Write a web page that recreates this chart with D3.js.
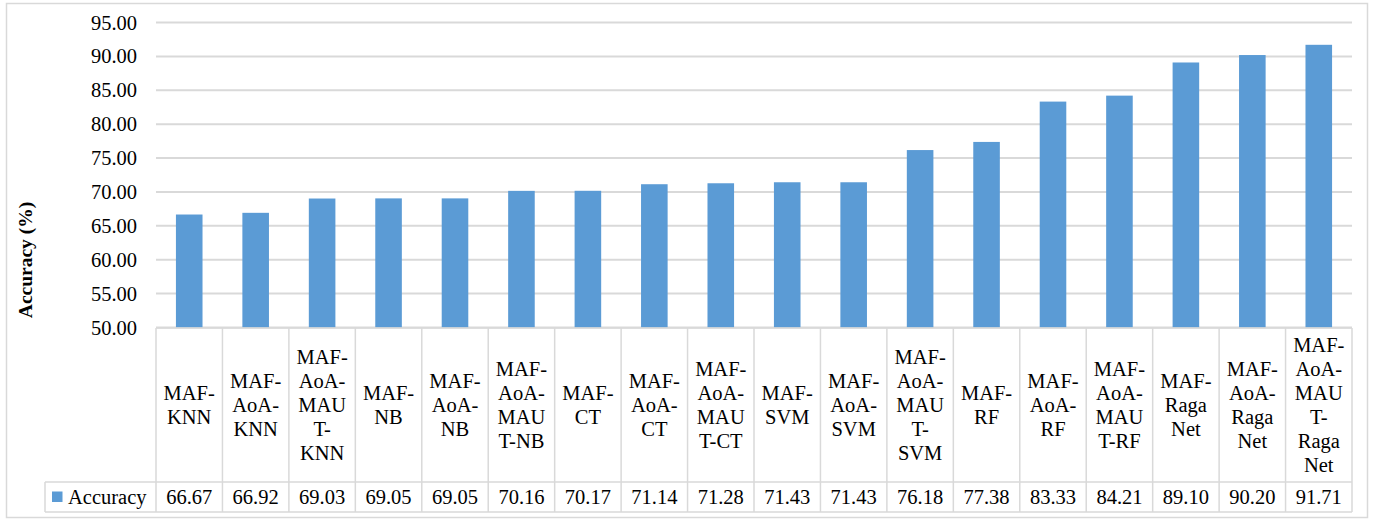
<!DOCTYPE html>
<html>
<head>
<meta charset="utf-8">
<script src="https://cdn.jsdelivr.net/npm/d3@7/dist/d3.min.js"></script>
<style>
  html, body { margin: 0; padding: 0; background: #fff; }
  svg { display: block; }
  svg text { font-family: "Liberation Serif", "Times New Roman", serif !important; }
</style>
</head>
<body>
<svg id="chart" width="1373" height="520"></svg>
<script>
// Classifier variants and their accuracy (%)
const categories = [
  "MAF-KNN", "MAF-AoA-KNN", "MAF-AoA-MAUT-KNN",
  "MAF-NB", "MAF-AoA-NB", "MAF-AoA-MAUT-NB",
  "MAF-CT", "MAF-AoA-CT", "MAF-AoA-MAUT-CT",
  "MAF-SVM", "MAF-AoA-SVM", "MAF-AoA-MAUT-SVM",
  "MAF-RF", "MAF-AoA-RF", "MAF-AoA-MAUT-RF",
  "MAF-Raga Net", "MAF-AoA-Raga Net", "MAF-AoA-MAUT-Raga Net"
];
const accuracy = [
  66.67, 66.92, 69.03, 69.05, 69.05, 70.16, 70.17, 71.14, 71.28,
  71.43, 71.43, 76.18, 77.38, 83.33, 84.21, 89.10, 90.20, 91.71
];
const seriesName = "Accuracy";
const yTicks = [50, 55, 60, 65, 70, 75, 80, 85, 90, 95];
const yTitle = "Accuracy (%)";

const svg = d3.select("#chart");
const FONT = 20.5;
const GRID = "#d9d9d9";
const BAR = "#5b9bd5";

// Layout
const plot = { left: 156, right: 1352, top: 22.5, bottom: 327.5 };
const table = { labelBottom: 482, valueBottom: 512, legendLeft: 45 };

const x = d3.scaleBand().domain(categories).range([plot.left, plot.right]).padding(0);
const y = d3.scaleLinear().domain([50, 95]).range([plot.bottom, plot.top]);
const bw = x.bandwidth();
const barW = bw / 2.5; // gap width 150%

// Chart frame
svg.append("rect")
  .attr("x", 6.5).attr("y", 3.5).attr("width", 1361).attr("height", 514)
  .attr("fill", "#fff").attr("stroke", GRID).attr("stroke-width", 1.5);

// Horizontal gridlines
svg.append("g")
  .selectAll("line")
  .data(yTicks)
  .join("line")
  .attr("x1", plot.left).attr("x2", plot.right)
  .attr("y1", d => y(d)).attr("y2", d => y(d))
  .attr("stroke", GRID).attr("stroke-width", 2);

// Y axis tick labels
const yAxis = d3.axisLeft(y).tickValues(yTicks).tickFormat(d3.format(".2f"))
  .tickSize(0).tickPadding(19);
const gy = svg.append("g").attr("transform", `translate(${plot.left},0)`).call(yAxis);
gy.select(".domain").remove();
gy.attr("font-size", FONT);
gy.selectAll("text").attr("fill", "#000");

// Y axis title
svg.append("text")
  .attr("transform", "translate(32,260) rotate(-90)")
  .attr("text-anchor", "middle")
  .attr("font-size", 19.5).attr("font-weight", "bold").attr("fill", "#000")
  .text(yTitle);

// Bars
svg.append("g")
  .selectAll("rect")
  .data(categories)
  .join("rect")
  .attr("x", (d) => x(d) + (bw - barW) / 2)
  .attr("width", barW)
  .attr("y", (d, i) => y(accuracy[i]))
  .attr("height", (d, i) => y(50) - y(accuracy[i]))
  .attr("fill", BAR);

// Data table: grid lines
const tg = svg.append("g").attr("stroke", GRID).attr("stroke-width", 1.5).attr("fill", "none");
// horizontal rules
tg.append("line").attr("x1", plot.left).attr("x2", plot.right).attr("y1", plot.bottom + 0.5).attr("y2", plot.bottom + 0.5);
tg.append("line").attr("x1", table.legendLeft).attr("x2", plot.right).attr("y1", table.labelBottom).attr("y2", table.labelBottom);
tg.append("line").attr("x1", table.legendLeft).attr("x2", plot.right).attr("y1", table.valueBottom).attr("y2", table.valueBottom);
// vertical rules
const edges = categories.map(c => x(c)).concat([plot.right]);
tg.selectAll("line.v")
  .data(edges)
  .join("line")
  .attr("class", "v")
  .attr("x1", d => d).attr("x2", d => d)
  .attr("y1", plot.bottom + 0.5).attr("y2", table.valueBottom);
tg.append("line").attr("x1", table.legendLeft).attr("x2", table.legendLeft)
  .attr("y1", table.labelBottom).attr("y2", table.valueBottom);

// Category labels, wrapped to the cell width
const measure = svg.append("text").attr("font-size", FONT).attr("visibility", "hidden");
function textWidth(s) { measure.text(s); return measure.node().getComputedTextLength(); }
function wrap(label, maxW) {
  const tokens = label.match(/[^\s-]+-?|\s+/g).filter(t => t.trim().length);
  // remember whether each token followed a space
  const parts = [];
  let rest = label;
  for (const t of tokens) {
    const idx = rest.indexOf(t);
    parts.push({ t, space: idx > 0 });
    rest = rest.slice(idx + t.length);
  }
  const lines = [];
  let cur = "";
  const pushPiece = (piece, space) => {
    const cand = cur ? cur + (space ? " " : "") + piece : piece;
    if (textWidth(cand) <= maxW) { cur = cand; return; }
    if (cur) { lines.push(cur); cur = ""; }
    if (textWidth(piece) <= maxW) { cur = piece; return; }
    // break an over-long token by characters
    let chunk = "";
    for (const ch of piece) {
      if (textWidth(chunk + ch) <= maxW) chunk += ch;
      else { lines.push(chunk); chunk = ch; }
    }
    cur = chunk;
  };
  parts.forEach(p => pushPiece(p.t, p.space));
  if (cur) lines.push(cur);
  return lines;
}
const lineH = 24;
const labelMid = (plot.bottom + table.labelBottom) / 2;
const labels = svg.append("g").attr("font-size", FONT).attr("fill", "#000").attr("text-anchor", "middle");
categories.forEach(c => {
  const lines = wrap(c, 57);
  const t = labels.append("text")
    .attr("x", x(c) + bw / 2)
    .attr("y", labelMid - (lines.length - 1) * lineH / 2);
  lines.forEach((ln, i) => {
    t.append("tspan").attr("x", x(c) + bw / 2).attr("dy", i === 0 ? "0.35em" : lineH).text(ln);
  });
});
measure.remove();

// Value row
const valueMid = (table.labelBottom + table.valueBottom) / 2;
svg.append("g").attr("font-size", FONT).attr("fill", "#000").attr("text-anchor", "middle")
  .selectAll("text")
  .data(categories)
  .join("text")
  .attr("x", d => x(d) + bw / 2)
  .attr("y", valueMid)
  .attr("dy", "0.35em")
  .text((d, i) => d3.format(".2f")(accuracy[i]));

// Legend key in the table
svg.append("rect")
  .attr("x", 52).attr("y", valueMid - 5.5).attr("width", 10.5).attr("height", 10.5)
  .attr("fill", BAR);
svg.append("text")
  .attr("x", 68).attr("y", valueMid).attr("dy", "0.35em")
  .attr("font-size", FONT).attr("fill", "#000")
  .text(seriesName);
</script>
</body>
</html>
